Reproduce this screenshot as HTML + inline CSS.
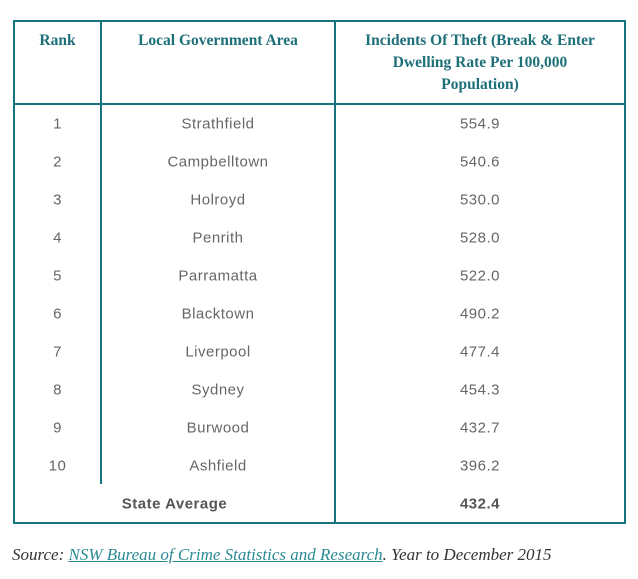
<!DOCTYPE html>
<html><head><style>
body{margin:0;width:638px;height:579px;background:#fff;position:relative;overflow:hidden;font-family:"Liberation Sans",sans-serif}
.l{position:absolute;background:#17737e}
.h{position:absolute;font-family:"Liberation Serif",serif;font-weight:bold;color:#1d6f78;font-size:15.5px;text-align:center;line-height:22px}
.c{position:absolute;color:#666;font-size:15px;letter-spacing:0.5px;text-align:center;transform:translateY(-50%)}
.b{font-weight:bold;color:#555}
</style></head><body>
<div class="l" style="left:13px;top:20px;width:613px;height:2px"></div>
<div class="l" style="left:13px;top:522px;width:613px;height:2px"></div>
<div class="l" style="left:13px;top:20px;width:2px;height:504px"></div>
<div class="l" style="left:624px;top:20px;width:2px;height:504px"></div>
<div class="l" style="left:13px;top:103px;width:613px;height:2px"></div>
<div class="l" style="left:100px;top:20px;width:2px;height:464px"></div>
<div class="l" style="left:334px;top:20px;width:2px;height:504px"></div>
<div class="h" style="left:15px;width:85px;top:30px">Rank</div>
<div class="h" style="left:102px;width:232px;top:30px">Local Government Area</div>
<div class="h" style="left:336px;width:288px;top:30px">Incidents Of Theft (Break &amp; Enter<br>Dwelling Rate Per 100,000<br>Population)</div>
<div id="rows"></div>
<script>
var d=[["Strathfield","554.9"],["Campbelltown","540.6"],["Holroyd","530.0"],["Penrith","528.0"],["Parramatta","522.0"],["Blacktown","490.2"],["Liverpool","477.4"],["Sydney","454.3"],["Burwood","432.7"],["Ashfield","396.2"]];
var h="";d.forEach(function(r,i){var y=124+i*38;
h+='<div class="c" style="left:15px;width:85px;top:'+y+'px">'+(i+1)+'</div><div class="c" style="left:102px;width:232px;top:'+y+'px">'+r[0]+'</div><div class="c" style="left:336px;width:288px;top:'+y+'px">'+r[1]+'</div>';});
h+='<div class="c b" style="left:15px;width:319px;top:504px">State Average</div><div class="c b" style="left:336px;width:288px;top:504px">432.4</div>';
document.getElementById("rows").innerHTML=h;
</script>
<div style="position:absolute;left:12px;top:545px;font-family:'Liberation Serif',serif;font-style:italic;font-size:17px;color:#333;white-space:nowrap">Source: <span style="color:#2a8a93;text-decoration:underline">NSW Bureau of Crime Statistics and Research</span>. Year to December 2015</div>
</body></html>
